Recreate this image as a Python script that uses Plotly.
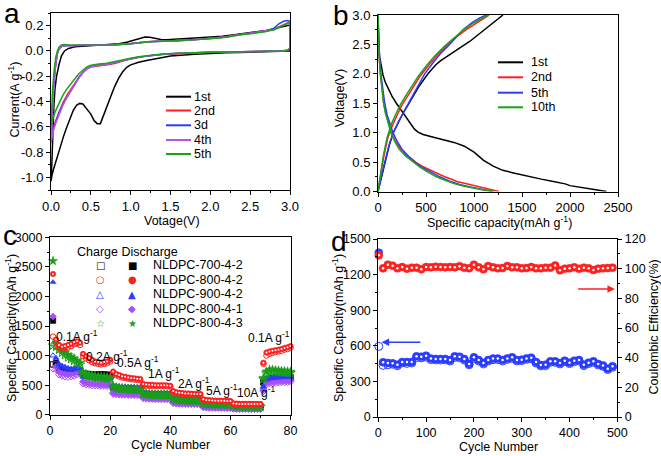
import plotly.graph_objects as go

W, H = 661, 456
FONT = "Arial, 'Liberation Sans', Helvetica, sans-serif"

# ---------------- Panel a: cyclic voltammetry ----------------
cv_names = ["1st", "2nd", "3d", "4th", "5th"]
cv_colors = ["#000000", "#ff1f1f", "#2a3cff", "#b455e6", "#1aa31a"]

cv1_v = [3.0, 2.9, 2.7, 2.5, 2.2, 2.0, 1.8, 1.5, 1.3, 1.2, 1.1, 1.0, 0.95, 0.9, 0.85, 0.8, 0.75, 0.7, 0.65,
         0.62, 0.58, 0.54, 0.5, 0.45, 0.4, 0.36, 0.32, 0.28, 0.24, 0.2, 0.16, 0.12, 0.08, 0.05, 0.03, 0.01, 0.0,
         0.01, 0.02, 0.035, 0.05, 0.07, 0.1, 0.13, 0.17, 0.22, 0.3, 0.45, 0.6, 0.75, 0.85, 0.95, 1.05, 1.12,
         1.18, 1.24, 1.3, 1.38, 1.45, 1.55, 1.7, 1.85, 2.0, 2.15, 2.3, 2.4, 2.5, 2.6, 2.7, 2.8, 2.9, 2.96, 3.0, 3.0]
cv1_i = [0.0, -0.003, -0.006, -0.01, -0.015, -0.02, -0.027, -0.04, -0.06, -0.075, -0.09, -0.11, -0.13, -0.165,
         -0.215, -0.28, -0.36, -0.44, -0.52, -0.575, -0.575, -0.55, -0.5, -0.455, -0.42, -0.415, -0.43, -0.47,
         -0.53, -0.6, -0.67, -0.75, -0.83, -0.89, -0.94, -0.99, -1.03,
         -0.9, -0.7, -0.45, -0.3, -0.2, -0.11, -0.04, 0.0, 0.02, 0.033, 0.04, 0.045, 0.05, 0.056, 0.068, 0.088,
         0.102, 0.11, 0.108, 0.1, 0.09, 0.088, 0.092, 0.097, 0.102, 0.108, 0.117, 0.128, 0.138, 0.147, 0.153,
         0.162, 0.175, 0.19, 0.2, 0.205, 0.0]

cv2_v = [3.0, 2.97, 2.9, 2.8, 2.6, 2.4, 2.2, 2.0, 1.8, 1.6, 1.4, 1.2, 1.1, 1.0, 0.9, 0.8, 0.7, 0.6, 0.5, 0.45,
         0.4, 0.35, 0.3, 0.25, 0.2, 0.15, 0.1, 0.06, 0.03, 0.01, 0.0,
         0.01, 0.02, 0.04, 0.06, 0.08, 0.1, 0.13, 0.17, 0.25, 0.4, 0.6, 0.8, 1.0, 1.1, 1.2, 1.3, 1.45, 1.6, 1.8,
         2.0, 2.2, 2.3, 2.4, 2.5, 2.6, 2.7, 2.8, 2.86, 2.92, 2.97, 3.0, 3.0]
cv2_i = [0.02, 0.005, 0.0, -0.002, -0.004, -0.006, -0.008, -0.01, -0.014, -0.02, -0.028, -0.04, -0.05, -0.063,
         -0.08, -0.1, -0.11, -0.118, -0.128, -0.142, -0.17, -0.21, -0.255, -0.3, -0.35, -0.41, -0.48, -0.55,
         -0.61, -0.66, -0.69,
         -0.55, -0.4, -0.22, -0.1, -0.02, 0.015, 0.035, 0.042, 0.043, 0.044, 0.046, 0.05, 0.058, 0.066, 0.074,
         0.077, 0.079, 0.083, 0.09, 0.1, 0.112, 0.125, 0.135, 0.14, 0.148, 0.158, 0.172, 0.19, 0.205, 0.22,
         0.23, 0.02]

cv3_v = cv2_v
cv3_i = [0.02, 0.005, 0.0, -0.002, -0.004, -0.006, -0.008, -0.01, -0.013, -0.019, -0.027, -0.039, -0.049,
         -0.062, -0.078, -0.097, -0.107, -0.112, -0.124, -0.14, -0.17, -0.21, -0.26, -0.31, -0.36, -0.42, -0.49,
         -0.56, -0.62, -0.67, -0.71,
         -0.56, -0.4, -0.22, -0.1, -0.02, 0.015, 0.034, 0.041, 0.042, 0.043, 0.045, 0.049, 0.057, 0.065, 0.072,
         0.075, 0.077, 0.081, 0.088, 0.098, 0.11, 0.122, 0.132, 0.138, 0.146, 0.156, 0.18, 0.215, 0.235, 0.24,
         0.235, 0.02]

cv4_v = cv2_v
cv4_i = [0.02, 0.005, 0.0, -0.002, -0.004, -0.006, -0.008, -0.01, -0.013, -0.019, -0.027, -0.039, -0.049,
         -0.062, -0.078, -0.097, -0.107, -0.113, -0.125, -0.142, -0.172, -0.215, -0.262, -0.315, -0.365, -0.43,
         -0.5, -0.57, -0.63, -0.69, -0.73,
         -0.58, -0.42, -0.23, -0.1, -0.02, 0.015, 0.034, 0.041, 0.042, 0.043, 0.045, 0.049, 0.057, 0.065, 0.072,
         0.075, 0.077, 0.081, 0.088, 0.098, 0.11, 0.122, 0.132, 0.138, 0.146, 0.156, 0.17, 0.188, 0.205, 0.222,
         0.228, 0.02]

cv5_v = [3.0, 2.97, 2.9, 2.8, 2.6, 2.4, 2.2, 2.0, 1.8, 1.6, 1.4, 1.2, 1.1, 1.0, 0.9, 0.8, 0.7, 0.6, 0.5, 0.45,
         0.4, 0.35, 0.3, 0.25, 0.2, 0.15, 0.1, 0.06, 0.03, 0.01, 0.0,
         0.01, 0.02, 0.04, 0.06, 0.08, 0.1, 0.13, 0.17, 0.25, 0.4, 0.6, 0.8, 1.0, 1.1, 1.2, 1.3, 1.45, 1.6, 1.8,
         2.0, 2.2, 2.3, 2.4, 2.5, 2.6, 2.7, 2.8, 2.86, 2.92, 2.97, 3.0, 3.0]
cv5_i = [0.02, 0.005, 0.0, -0.002, -0.004, -0.006, -0.008, -0.01, -0.013, -0.018, -0.025, -0.036, -0.046,
         -0.058, -0.073, -0.088, -0.098, -0.104, -0.114, -0.126, -0.15, -0.18, -0.22, -0.26, -0.3, -0.35, -0.41,
         -0.47, -0.52, -0.56, -0.59,
         -0.45, -0.3, -0.15, -0.05, 0.0, 0.03, 0.048, 0.05, 0.045, 0.043, 0.044, 0.047, 0.055, 0.062, 0.07,
         0.073, 0.075, 0.079, 0.086, 0.096, 0.108, 0.12, 0.13, 0.136, 0.144, 0.154, 0.168, 0.186, 0.203, 0.22,
         0.226, 0.02]

cv_v = [cv1_v, cv2_v, cv3_v, cv4_v, cv5_v]
cv_i = [cv1_i, cv2_i, cv3_i, cv4_i, cv5_i]

a_xticks = [0.0, 0.5, 1.0, 1.5, 2.0, 2.5, 3.0]
a_xtext = ["0.0", "0.5", "1.0", "1.5", "2.0", "2.5", "3.0"]
a_yticks = [-1.0, -0.8, -0.6, -0.4, -0.2, 0.0, 0.2]
a_ytext = ["-1.0", "-0.8", "-0.6", "-0.4", "-0.2", "0.0", "0.2"]

# ---------------- Panel b: charge/discharge profiles ----------------
gc_names = ["1st", "2nd", "5th", "10th"]
gc_colors = ["#000000", "#ff1f1f", "#2a3cff", "#1aa31a"]

b1_dis_cap = [0, 5, 17, 35, 52, 75, 104, 145, 191, 235, 278, 320, 347, 380, 417, 470, 538, 600, 700, 800, 900,
              1000, 1100, 1200, 1300, 1400, 1500, 1600, 1700, 1800, 1900, 1950, 2000, 2100, 2200, 2300, 2380]
b1_dis_v = [3.0, 2.6, 2.29, 2.1, 1.98, 1.86, 1.75, 1.62, 1.5, 1.4, 1.3, 1.2, 1.13, 1.06, 1.01, 0.97, 0.94, 0.91,
            0.87, 0.83, 0.77, 0.67, 0.53, 0.43, 0.36, 0.32, 0.28, 0.245, 0.21, 0.18, 0.15, 0.13, 0.1, 0.07,
            0.045, 0.02, 0.0]
b1_chg_cap = [0, 30, 70, 120, 160, 210, 260, 330, 420, 520, 600, 650, 720, 800, 880, 955, 1030, 1111, 1200, 1302]
b1_chg_v = [0.0, 0.2, 0.5, 0.8, 1.0, 1.18, 1.33, 1.52, 1.77, 2.0, 2.15, 2.22, 2.3, 2.38, 2.47, 2.55, 2.65, 2.75,
            2.87, 3.0]

b2_dis_cap = [0, 5, 12, 25, 40, 59, 80, 105, 139, 180, 230, 290, 350, 400, 470, 550, 620, 694, 780, 800, 820,
              900, 1000, 1100, 1200, 1260]
b2_dis_v = [3.0, 2.6, 2.3, 2.0, 1.75, 1.5, 1.33, 1.18, 1.0, 0.86, 0.74, 0.63, 0.55, 0.49, 0.42, 0.36, 0.3, 0.25,
            0.2, 0.18, 0.17, 0.14, 0.1, 0.06, 0.025, 0.0]
b2_chg_cap = [0, 25, 55, 100, 150, 200, 243, 300, 360, 434, 530, 620, 729, 820, 920, 1020, 1100, 1156]
b2_chg_v = [0.0, 0.25, 0.55, 0.9, 1.12, 1.3, 1.45, 1.6, 1.75, 1.95, 2.15, 2.32, 2.5, 2.63, 2.75, 2.86, 2.94, 3.0]

b5_dis_cap = [0, 6, 15, 30, 48, 70, 95, 122, 156, 200, 250, 310, 382, 450, 540, 642, 740, 850, 950, 1050, 1130,
              1190]
b5_dis_v = [3.0, 2.6, 2.3, 2.0, 1.75, 1.5, 1.3, 1.15, 1.0, 0.85, 0.72, 0.61, 0.5, 0.42, 0.34, 0.25, 0.18, 0.12,
            0.08, 0.045, 0.02, 0.0]
b5_chg_cap = [0, 30, 70, 120, 160, 210, 260, 330, 400, 486, 580, 660, 746, 820, 885, 980, 1060, 1128]
b5_chg_v = [0.0, 0.22, 0.5, 0.82, 1.0, 1.18, 1.33, 1.52, 1.75, 2.0, 2.2, 2.36, 2.5, 2.63, 2.75, 2.87, 2.95, 3.0]

b10_dis_cap = [0, 5, 12, 25, 40, 58, 78, 102, 135, 175, 220, 290, 365, 440, 520, 608, 700, 800, 900, 1000, 1100,
               1210]
b10_dis_v = [3.0, 2.6, 2.3, 2.0, 1.75, 1.5, 1.33, 1.18, 1.0, 0.85, 0.72, 0.6, 0.5, 0.41, 0.33, 0.25, 0.19, 0.13,
             0.09, 0.055, 0.025, 0.0]
b10_chg_cap = [0, 25, 55, 95, 140, 190, 235, 290, 350, 420, 510, 600, 700, 800, 885, 980, 1070, 1146]
b10_chg_v = [0.0, 0.3, 0.6, 0.92, 1.15, 1.33, 1.48, 1.63, 1.78, 1.96, 2.15, 2.32, 2.48, 2.62, 2.74, 2.85, 2.93,
             3.0]

gc_dis_cap = [b1_dis_cap, b2_dis_cap, b5_dis_cap, b10_dis_cap]
gc_dis_v = [b1_dis_v, b2_dis_v, b5_dis_v, b10_dis_v]
gc_chg_cap = [b1_chg_cap, b2_chg_cap, b5_chg_cap, b10_chg_cap]
gc_chg_v = [b1_chg_v, b2_chg_v, b5_chg_v, b10_chg_v]

b_xticks = [0, 500, 1000, 1500, 2000, 2500]
b_yticks = [0.0, 0.5, 1.0, 1.5, 2.0, 2.5, 3.0]

# ---------------- Panel c: rate performance ----------------
cycles_c = list(range(1, 81))
rate_labels = ["0.1A g<sup>-1</sup>", "0.2A g<sup>-1</sup>", "0.5A g<sup>-1</sup>", "1A g<sup>-1</sup>",
               "2A g<sup>-1</sup>", "5A g<sup>-1</sup>", "10A g<sup>-1</sup>", "0.1A g<sup>-1</sup>"]

c_names = ["NLDPC-700-4-2", "NLDPC-800-4-2", "NLDPC-900-4-2", "NLDPC-800-4-1", "NLDPC-800-4-3"]
c_colors = ["#000000", "#ff1f1f", "#2a3cff", "#a64dff", "#1a9e1a"]

dis_700 = [1590, 880, 800, 780, 760, 750, 740, 750, 760, 750,
           700, 690, 685, 680, 680, 682, 684, 682, 680, 660,
           470, 455, 450, 446, 444, 442, 440, 438, 436, 435,
           360, 352, 348, 346, 344, 342, 341, 340, 339, 338,
           265, 255, 250, 248, 246, 245, 244, 243, 242, 241,
           180, 172, 170, 168, 167, 166, 165, 165, 164, 164,
           140, 136, 134, 133, 133, 132, 132, 131, 131, 131,
           560, 600, 610, 615, 620, 625, 628, 632, 636, 640]
chg_700 = [850, 850, 775, 755, 738, 728, 720, 728, 738, 730,
           680, 672, 668, 664, 664, 666, 668, 666, 664, 645,
           460, 446, 441, 438, 436, 434, 432, 430, 429, 428,
           352, 345, 342, 340, 338, 337, 336, 335, 334, 333,
           259, 250, 246, 244, 242, 241, 240, 239, 238, 238,
           176, 169, 167, 165, 164, 163, 163, 162, 162, 161,
           137, 134, 132, 131, 131, 130, 130, 130, 129, 129,
           545, 585, 596, 602, 607, 612, 616, 620, 624, 628]
dis_800_2 = [2380, 1270, 1180, 1150, 1160, 1180, 1200, 1230, 1240, 1215,
             1030, 990, 960, 930, 900, 890, 880, 890, 900, 930,
             730, 690, 670, 650, 640, 630, 620, 615, 610, 605,
             520, 510, 505, 505, 500, 500, 500, 500, 495, 490,
             400, 380, 370, 365, 360, 358, 355, 352, 350, 350,
             260, 250, 245, 240, 238, 236, 235, 234, 232, 230,
             190, 185, 183, 182, 182, 181, 180, 180, 180, 180,
             880, 1050, 1070, 1080, 1090, 1100, 1110, 1130, 1140, 1160]
chg_800_2 = [1320, 1220, 1130, 1110, 1120, 1140, 1160, 1190, 1200, 1180,
             990, 950, 920, 890, 870, 860, 850, 860, 870, 900,
             700, 665, 645, 630, 620, 610, 600, 595, 590, 585,
             500, 490, 488, 486, 484, 482, 480, 480, 478, 475,
             385, 368, 358, 353, 349, 346, 344, 342, 340, 340,
             250, 242, 238, 234, 232, 230, 229, 228, 226, 225,
             185, 181, 179, 178, 178, 177, 177, 176, 176, 176,
             860, 1000, 1030, 1045, 1060, 1070, 1080, 1100, 1110, 1130]
dis_900 = [2240, 960, 860, 830, 810, 790, 780, 790, 800, 790,
           660, 650, 645, 640, 638, 636, 634, 632, 630, 628,
           500, 485, 480, 478, 476, 474, 472, 470, 468, 466,
           390, 380, 376, 374, 372, 370, 369, 368, 367, 366,
           300, 290, 286, 284, 282, 281, 280, 279, 278, 277,
           210, 202, 200, 199, 198, 197, 196, 196, 195, 195,
           175, 172, 170, 170, 169, 169, 168, 168, 168, 167,
           480, 610, 630, 640, 640, 645, 648, 650, 652, 655]
chg_900 = [1000, 920, 830, 800, 780, 765, 755, 765, 775, 765,
           640, 632, 628, 624, 622, 620, 618, 616, 614, 612,
           485, 472, 468, 466, 464, 462, 460, 459, 458, 456,
           380, 372, 368, 366, 364, 363, 362, 361, 360, 359,
           293, 284, 281, 279, 277, 276, 275, 274, 273, 272,
           205, 198, 196, 195, 194, 193, 193, 192, 192, 191,
           172, 169, 168, 167, 167, 166, 166, 166, 165, 165,
           470, 590, 612, 622, 625, 630, 633, 636, 638, 640]
dis_800_1 = [1660, 810, 720, 700, 690, 680, 690, 700, 720, 740,
             560, 540, 530, 525, 520, 515, 512, 510, 508, 505,
             370, 360, 355, 352, 350, 348, 346, 345, 344, 343,
             290, 282, 278, 276, 274, 273, 272, 271, 270, 270,
             205, 196, 192, 190, 189, 188, 187, 186, 186, 185,
             130, 124, 122, 121, 120, 120, 119, 119, 118, 118,
             105, 102, 101, 100, 100, 100, 99, 99, 99, 98,
             420, 540, 555, 560, 565, 570, 572, 575, 578, 580]
chg_800_1 = [780, 770, 680, 660, 645, 640, 650, 660, 680, 700,
             530, 515, 505, 500, 496, 492, 490, 488, 486, 484,
             355, 346, 342, 339, 337, 336, 334, 333, 332, 331,
             280, 273, 270, 268, 266, 265, 264, 263, 263, 262,
             198, 190, 187, 185, 184, 183, 182, 182, 181, 181,
             126, 121, 119, 118, 118, 117, 117, 116, 116, 116,
             102, 100, 99, 98, 98, 98, 97, 97, 97, 96,
             400, 515, 530, 536, 542, 546, 549, 552, 555, 558]
dis_800_3 = [2600, 1200, 1150, 1090, 1050, 1010, 980, 950, 910, 880,
             720, 690, 670, 660, 650, 645, 640, 635, 630, 625,
             480, 460, 450, 445, 440, 435, 432, 430, 428, 425,
             360, 350, 345, 342, 340, 338, 336, 335, 334, 332,
             270, 258, 252, 248, 246, 244, 242, 240, 240, 238,
             190, 182, 180, 178, 177, 176, 175, 174, 174, 173,
             150, 145, 142, 140, 140, 139, 139, 138, 138, 137,
             620, 730, 760, 760, 750, 745, 740, 735, 730, 725]
chg_800_3 = [1170, 1150, 1100, 1050, 1010, 970, 940, 910, 880, 850,
             690, 665, 650, 640, 632, 626, 620, 616, 612, 608,
             465, 447, 440, 435, 430, 426, 423, 421, 419, 417,
             350, 342, 338, 335, 333, 331, 330, 329, 328, 327,
             262, 252, 247, 244, 242, 240, 238, 237, 236, 235,
             186, 179, 177, 175, 174, 173, 172, 172, 171, 171,
             147, 143, 140, 139, 138, 138, 137, 137, 136, 136,
             600, 700, 730, 735, 730, 725, 720, 716, 712, 708]

c_dis = [dis_700, dis_800_2, dis_900, dis_800_1, dis_800_3]
c_chg = [chg_700, chg_800_2, chg_900, chg_800_1, chg_800_3]
c_sym_open = ["square-open", "circle-open", "triangle-up-open", "diamond-open", "star-open"]
c_sym_fill = ["square", "circle", "triangle-up", "diamond", "star"]
c_glyph_open = ["\u25a1", "\u25cb", "\u25b3", "\u25c7", "\u2606"]
c_glyph_fill = ["\u25a0", "\u25cf", "\u25b2", "\u25c6", "\u2605"]
c_draw_order = [0, 3, 2, 4, 1]

c_xticks = [0, 20, 40, 60, 80]
c_yticks = [0, 500, 1000, 1500, 2000, 2500, 3000]

# ---------------- Panel d: long cycling ----------------
cycles_d = [1, 10, 20, 30, 40, 50, 60, 70, 80, 90, 100, 110, 120, 130, 140, 150, 160, 170, 180, 190, 200,
            210, 220, 230, 240, 250, 260, 270, 280, 290, 300, 310, 320, 330, 340, 350, 360, 370, 380, 390,
            400, 410, 420, 430, 440, 450, 460, 470, 480, 490]
d_discharge = [1385, 461, 455, 452, 441, 463, 463, 463, 511, 508, 517, 492, 489, 489, 489, 480, 511, 508, 489,
               447, 503, 480, 455, 480, 492, 492, 480, 494, 503, 480, 483, 494, 500, 463, 438, 441, 469, 469,
               455, 475, 458, 475, 480, 441, 458, 469, 447, 435, 407, 427]
d_charge = [595, 435, 440, 445, 432, 455, 452, 455, 500, 498, 505, 484, 481, 480, 481, 472, 502, 499, 480, 440,
            494, 472, 447, 472, 483, 484, 472, 486, 494, 472, 475, 486, 491, 455, 431, 433, 461, 461, 447, 466,
            450, 466, 472, 433, 450, 461, 439, 427, 400, 419]
d_ce = [109, 100.2, 102.7, 102.0, 100.2, 101.1, 100.0, 100.7, 100.7, 99.6, 101.1, 100.9, 101.3, 101.1, 100.9,
        101.1, 100.9, 101.6, 100.7, 100.2, 102.7, 100.9, 99.6, 101.8, 100.9, 100.2, 100.4, 101.8, 100.9, 100.9,
        100.2, 100.4, 101.1, 100.2, 100.2, 100.7, 100.7, 102.2, 98.9, 100.0, 100.2, 100.9, 100.0, 100.7, 100.2,
        99.1, 100.0, 100.2, 100.4, 100.7]
d_blue = "#2a3cff"
d_red = "#ff2020"
d_xticks = [0, 100, 200, 300, 400, 500]
d_yticks = [0, 300, 600, 900, 1200, 1500]
d_y2ticks = [0, 20, 40, 60, 80, 100, 120]


# ---------------- helpers (layout positions in pixels) ----------------
def fx(p):
    return p / W


def fy(p):
    return 1 - p / H


def axis(domain, rng, tickvals, minor_dtick, ticktext=None, size=13, **kw):
    d = dict(domain=domain, range=rng, showline=True, linecolor="black", linewidth=1, mirror=True,
             ticks="outside", ticklen=4, tickwidth=1, tickcolor="black", showgrid=False, zeroline=False,
             automargin=False,
             tickvals=tickvals, tickfont=dict(family=FONT, size=size, color="black"),
             minor=dict(ticks="outside", ticklen=2, tickcolor="black", dtick=minor_dtick, tick0=0,
                        showgrid=False))
    if ticktext is not None:
        d["ticktext"] = ticktext
    d.update(kw)
    return d


fig = go.Figure()

# panel a traces
for k in range(5):
    fig.add_trace(go.Scatter(x=cv_v[k], y=cv_i[k], mode="lines", name=cv_names[k],
                             line=dict(color=cv_colors[k], width=1.5), xaxis="x", yaxis="y",
                             showlegend=False))

# panel b traces
for k in range(4):
    fig.add_trace(go.Scatter(x=gc_dis_cap[k], y=gc_dis_v[k], mode="lines", name=gc_names[k],
                             line=dict(color=gc_colors[k], width=1.5), xaxis="x2", yaxis="y2",
                             showlegend=False))
    fig.add_trace(go.Scatter(x=gc_chg_cap[k], y=gc_chg_v[k], mode="lines", name=gc_names[k],
                             line=dict(color=gc_colors[k], width=1.5), xaxis="x2", yaxis="y2",
                             showlegend=False))

# panel c traces
for k in c_draw_order:
    sz = 7 if c_sym_fill[k] == "star" else 5.5
    fig.add_trace(go.Scatter(x=cycles_c, y=c_chg[k], mode="markers", name=c_names[k] + " charge",
                             marker=dict(symbol=c_sym_open[k], size=sz, color=c_colors[k],
                                         line=dict(color=c_colors[k], width=1)),
                             xaxis="x3", yaxis="y3", showlegend=False, cliponaxis=False))
    fig.add_trace(go.Scatter(x=cycles_c, y=c_dis[k], mode="markers", name=c_names[k] + " discharge",
                             marker=dict(symbol=c_sym_fill[k], size=sz, color=c_colors[k],
                                         line=dict(color=c_colors[k], width=0.5)),
                             xaxis="x3", yaxis="y3", showlegend=False, cliponaxis=False))
    if c_sym_fill[k] == "circle":
        fig.add_trace(go.Scatter(x=cycles_c, y=c_dis[k], mode="markers", hoverinfo="skip",
                                 marker=dict(symbol="circle", size=2, color="white"),
                                 xaxis="x3", yaxis="y3", showlegend=False, cliponaxis=False))

# panel d traces
fig.add_trace(go.Scatter(x=cycles_d, y=d_charge, mode="markers", name="charge",
                         marker=dict(symbol="circle-open", size=8, color=d_blue, line=dict(width=1)),
                         xaxis="x4", yaxis="y4", showlegend=False, cliponaxis=False))
fig.add_trace(go.Scatter(x=cycles_d, y=d_discharge, mode="markers", name="discharge",
                         marker=dict(symbol="circle", size=8, color=d_blue, line=dict(color=d_blue, width=0.5)),
                         xaxis="x4", yaxis="y4", showlegend=False, cliponaxis=False))
fig.add_trace(go.Scatter(x=cycles_d, y=d_discharge, mode="markers", hoverinfo="skip",
                         marker=dict(symbol="circle", size=2.5, color="white"),
                         xaxis="x4", yaxis="y4", showlegend=False, cliponaxis=False))
fig.add_trace(go.Scatter(x=cycles_d, y=d_ce, mode="markers", name="CE",
                         marker=dict(symbol="circle", size=8, color=d_red, line=dict(color=d_red, width=0.5)),
                         xaxis="x4", yaxis="y5", showlegend=False, cliponaxis=False))
fig.add_trace(go.Scatter(x=cycles_d, y=d_ce, mode="markers", hoverinfo="skip",
                         marker=dict(symbol="circle", size=2.5, color="white"),
                         xaxis="x4", yaxis="y5", showlegend=False, cliponaxis=False))

ann = []
shapes = []


def text(x, y, s, size=12.5, xanchor="center", yanchor="middle", angle=0, color="black", family=FONT):
    ann.append(dict(x=fx(x), y=fy(y), xref="paper", yref="paper", text=s, showarrow=False,
                    xanchor=xanchor, yanchor=yanchor, textangle=angle,
                    font=dict(family=family, size=size, color=color)))


# panel letters
text(2, 13.5, "a", size=28, xanchor="left")
text(331, 15.5, "b", size=28, xanchor="left")
text(1, 235.5, "c", size=28, xanchor="left")
text(329, 241.5, "d", size=28, xanchor="left")

# axis titles
text(13, 99.5, "Current(A g<sup>-1</sup>)", angle=-90)
text(171.7, 220.5, "Votage(V)")
text(340, 98.3, "Voltage(V)", angle=-90)
text(499, 222, "Specific capacity(mAh g<sup>-1</sup>)")
text(11, 328, "Specific Capacity(mAh g<sup>-1</sup>)", angle=-90)
text(171, 445.3, "Cycle Number")
text(338, 328, "Specific Capacity(mAh g<sup>-1</sup>)", angle=-90)
text(653.5, 327, "Coulombic Efficiency(%)", angle=-90)
text(498.5, 447.3, "Cycle Number")

# panel a legend
a_rows = [96.7, 110.5, 125.3, 140, 154]
for k in range(5):
    shapes.append(dict(type="line", xref="paper", yref="paper", x0=fx(166), x1=fx(191),
                       y0=fy(a_rows[k]), y1=fy(a_rows[k]), line=dict(color=cv_colors[k], width=2)))
    text(192, a_rows[k], cv_names[k], xanchor="left")

# panel b legend
b_rows = [62.3, 77.3, 92.7, 107.3]
for k in range(4):
    shapes.append(dict(type="line", xref="paper", yref="paper", x0=fx(498), x1=fx(523),
                       y0=fy(b_rows[k]), y1=fy(b_rows[k]), line=dict(color=gc_colors[k], width=2)))
    text(529, b_rows[k], gc_names[k], xanchor="left")

# panel c legend
text(75, 252, "Charge Discharge", xanchor="left")
c_rows = [265, 279.5, 294, 308.5, 323]
for k in range(5):
    text(100, c_rows[k], c_glyph_open[k], size=10, color=c_colors[k], family="DejaVu Sans")
    text(132, c_rows[k], c_glyph_fill[k], size=10, color=c_colors[k], family="DejaVu Sans")
    text(151, c_rows[k], c_names[k], xanchor="left")

# panel c rate labels
rate_pos = [(54, 336), (83.5, 356), (114.5, 362), (146, 372.7), (176, 383), (203.5, 390), (235, 392),
            (245.5, 336.5)]
for lbl, (px_, py_) in zip(rate_labels, rate_pos):
    text(px_, py_, lbl, size=12, xanchor="left")

# panel d arrows
ann.append(dict(x=7, y=629, ax=91, ay=629, xref="x4", yref="y4", axref="x4", ayref="y4", text="",
                showarrow=True, arrowhead=2, arrowsize=1, arrowwidth=1.5, arrowcolor=d_blue))
ann.append(dict(x=495, y=86.3, ax=415, ay=86.3, xref="x4", yref="y5", axref="x4", ayref="y5", text="",
                showarrow=True, arrowhead=2, arrowsize=1, arrowwidth=1.5, arrowcolor=d_red))

fig.update_layout(
    width=W, height=H, autosize=False,
    margin=dict(l=0, r=0, t=0, b=0, pad=0),
    paper_bgcolor="white", plot_bgcolor="white",
    showlegend=False,
    font=dict(family=FONT, size=13, color="black"),
    xaxis=axis([fx(51), fx(290)], [0, 3], a_xticks, 0.25, ticktext=a_xtext, anchor="y"),
    yaxis=axis([fy(190), fy(13)], [-1.1, 0.3], a_yticks, 0.1, ticktext=a_ytext, anchor="x"),
    xaxis2=axis([fx(378), fx(618)], [0, 2500], b_xticks, 250, anchor="y2"),
    yaxis2=axis([fy(191.5), fy(15)], [0, 3], b_yticks, 0.25, anchor="x2", tickformat=".1f"),
    xaxis3=axis([fx(50), fx(290.5)], [0, 80], c_xticks, 10, size=12.5, anchor="y3"),
    yaxis3=axis([fy(414.7), fy(237.3)], [0, 3000], c_yticks, 250, size=12.5, anchor="x3"),
    xaxis4=axis([fx(378.3), fx(617.3)], [0, 500], d_xticks, 50, size=12.5, anchor="y4"),
    yaxis4=axis([fy(417), fy(239)], [0, 1500], d_yticks, 150, size=12.5, anchor="x4", mirror=False),
    yaxis5=axis([fy(417), fy(239)], [0, 120], d_y2ticks, 10, size=12.5, anchor="x4", overlaying="y4",
                side="right", mirror=False),
    annotations=ann,
    shapes=shapes,
)

fig.write_html("out.html", config={"displayModeBar": False},
               post_script="document.body.style.margin='0';")
